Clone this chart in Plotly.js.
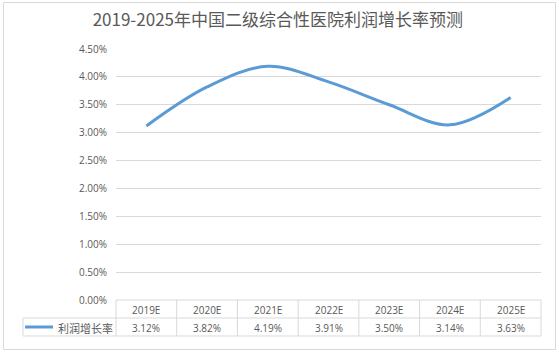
<!DOCTYPE html>
<html>
<head>
<meta charset="utf-8">
<script src="https://cdn.plot.ly/plotly-3.0.1.min.js"></script>
<style>
html,body{margin:0;padding:0;background:#fff;}
#chart{width:559px;height:352px;}
</style>
</head>
<body>
<div id="chart"></div>
<script>
const titleText = '2019-2025年中国二级综合性医院利润增长率预测';
const categories = ['2019E','2020E','2021E','2022E','2023E','2024E','2025E'];
const seriesName = '利润增长率';
const profitGrowth = [3.12, 3.82, 4.19, 3.91, 3.50, 3.14, 3.63];
const yTicks = [0,0.5,1,1.5,2,2.5,3,3.5,4,4.5];
const yTickLabels = ['0.00%','0.50%','1.00%','1.50%','2.00%','2.50%','3.00%','3.50%','4.00%','4.50%'];

const W = 559, H = 352;
const mL = 116, mR = 18, mT = 49, mB = 52;
const plotW = W - mL - mR, plotH = H - mT - mB;
const px2py = p => (H - mB - p) / plotH;   // pixel y -> paper y
const px2px = p => (p - mL) / plotW;       // pixel x -> paper x

const txtColor = '#595959';
const gridColor = '#d9d9d9';
const lineColor = '#5b9bd5';
const baseFont = '"Open Sans", "Noto Sans CJK SC", sans-serif';
const cjkFont = '"Noto Sans CJK SC", "Open Sans", sans-serif';

const rowMid = px2py(318), rowBot = px2py(336);
const shapes = [];
const n = categories.length;
// table horizontal lines
shapes.push({type:'line', xref:'paper', yref:'paper', x0:0, x1:1, y0:0, y1:0, line:{color:gridColor, width:1}});
shapes.push({type:'line', xref:'paper', yref:'paper', x0:px2px(23), x1:1, y0:rowMid, y1:rowMid, line:{color:gridColor, width:1}});
shapes.push({type:'line', xref:'paper', yref:'paper', x0:px2px(23), x1:1, y0:rowBot, y1:rowBot, line:{color:gridColor, width:1}});
// vertical lines
for (let i = 0; i <= n; i++) {
  shapes.push({type:'line', xref:'paper', yref:'paper', x0:i/n, x1:i/n, y0:0, y1:rowBot, line:{color:gridColor, width:1}});
}
shapes.push({type:'line', xref:'paper', yref:'paper', x0:px2px(23), x1:px2px(23), y0:rowMid, y1:rowBot, line:{color:gridColor, width:1}});
// legend key line
shapes.push({type:'line', xref:'paper', yref:'paper', x0:px2px(25), x1:px2px(53), y0:px2py(327), y1:px2py(327), line:{color:lineColor, width:3}});
// outer frame
shapes.push({type:'rect', xref:'paper', yref:'paper', x0:px2px(3.5), x1:px2px(555.5), y0:px2py(2.5), y1:px2py(349.5), line:{color:gridColor, width:1}, fillcolor:'rgba(0,0,0,0)'});

const annotations = [];
categories.forEach((c, i) => {
  annotations.push({xref:'x', yref:'paper', x:c, y:px2py(309.5), text:c, showarrow:false, xanchor:'center', yanchor:'middle', font:{family:baseFont, size:10, color:txtColor}});
  annotations.push({xref:'x', yref:'paper', x:c, y:px2py(327.5), text:profitGrowth[i].toFixed(2) + '%', showarrow:false, xanchor:'center', yanchor:'middle', font:{family:baseFont, size:10, color:txtColor}});
});
annotations.push({xref:'paper', yref:'paper', x:px2px(56), y:px2py(327.5), text:seriesName, showarrow:false, xanchor:'left', yanchor:'middle', font:{family:cjkFont, size:11, color:txtColor}});

const trace = {
  x: categories, y: profitGrowth, type:'scatter', mode:'lines', name:seriesName,
  line:{color:lineColor, width:3, shape:'spline', smoothing:1},
  hoverinfo:'skip'
};

const layout = {
  width:W, height:H,
  margin:{l:mL, r:mR, t:mT, b:mB, pad:0},
  paper_bgcolor:'#ffffff', plot_bgcolor:'#ffffff',
  showlegend:false,
  title:{text:titleText, x:0.497, xref:'container', xanchor:'center', y:1 - 20/H, yref:'container', yanchor:'middle',
         font:{family:cjkFont, size:17, color:txtColor}},
  xaxis:{type:'category', range:[-0.5, n - 0.5], showticklabels:false, showgrid:false, zeroline:false, showline:false, ticks:''},
  yaxis:{range:[0, 4.5], tickmode:'array', tickvals:yTicks, ticktext:yTickLabels, showgrid:true, gridcolor:gridColor, gridwidth:1,
         zeroline:false, showline:false, ticks:'', ticklabelstandoff:8,
         tickfont:{family:baseFont, size:10, color:txtColor}},
  shapes:shapes,
  annotations:annotations
};

Plotly.newPlot('chart', [trace], layout, {staticPlot:true, displayModeBar:false});
</script>
</body>
</html>
